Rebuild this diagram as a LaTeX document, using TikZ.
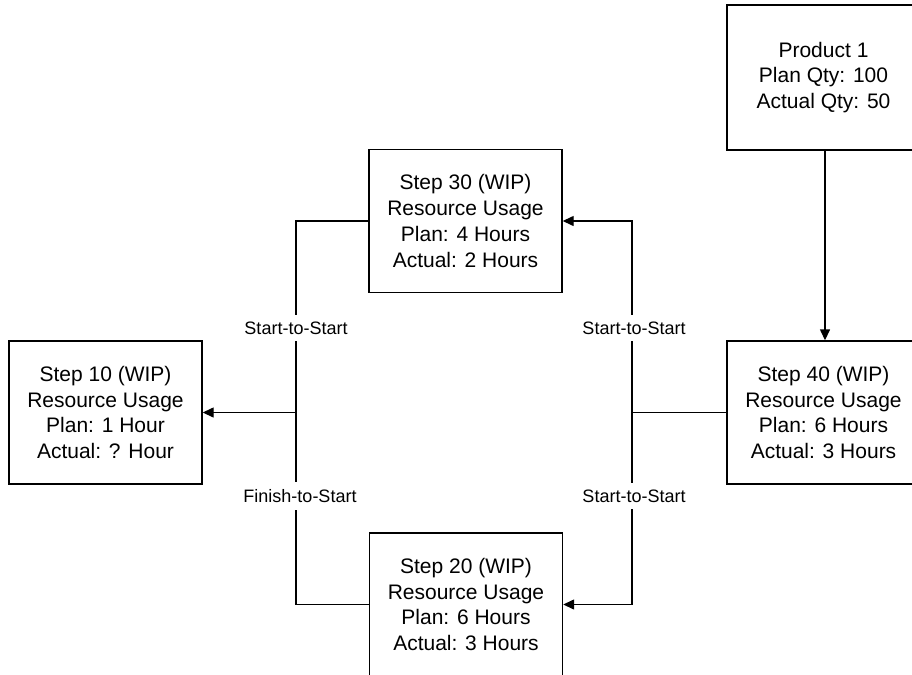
\documentclass[tikz,border=0pt]{standalone}
\usepackage{fontspec}
\setmainfont{Liberation Sans}
\usetikzlibrary{arrows.meta}
\tikzset{
  stepbox/.style={draw=black, line width=1.4pt, minimum width=193pt, minimum height=143pt,
    inner sep=0pt, align=center, font=\fontsize{21}{25.7}\selectfont},
  conn/.style={draw=black, line width=1.4pt},
  arr/.style={conn, -{Triangle[length=11pt,width=10pt]}},
  rel/.style={fill=white, inner xsep=1pt, inner ysep=7pt, font=\fontsize{18}{20}\selectfont}
}
\begin{document}
\begin{tikzpicture}[x=1pt, y=-1pt]
\useasboundingbox (0,0) rectangle (912,674);
\clip (0,0) rectangle (912,674);
\fill[white] (0,0) rectangle (912,674);

\node[stepbox, minimum height=145pt] (prod) at (823.5,77.5) {Product 1\\Plan Qty: 100\\Actual Qty: 50};
\node[stepbox] (s30) at (465.5,221) {Step 30 (WIP)\\Resource Usage\\Plan: 4 Hours\\Actual: 2 Hours};
\node[stepbox] (s10) at (105.5,412.5) {Step 10 (WIP)\\Resource Usage\\Plan: 1 Hour\\Actual: ? Hour};
\node[stepbox] (s40) at (823.5,412.5) {Step 40 (WIP)\\Resource Usage\\Plan: 6 Hours\\Actual: 3 Hours};
\node[stepbox] (s20) at (466,604.5) {Step 20 (WIP)\\Resource Usage\\Plan: 6 Hours\\Actual: 3 Hours};

\coordinate (L) at (296,412.5);
\coordinate (R) at (632,412.5);

\draw[arr] (s30.west) -| (L) -- (s10.east);
\draw[conn] (s20.west) -| (L);
\draw[conn] (s40.west) -- (R);
\draw[arr] (R) |- (s30.east);
\draw[arr] (R) |- (s20.east);
\draw[arr] (prod.south -| 825,0) -- (s40.north -| 825,0);

\node[rel] (l1) at (296,328) {Start-to-Start};
\node[rel] (l2) at (634,328) {Start-to-Start};
\node[rel] (l3) at (300,496) {Finish-to-Start};
\node[rel] (l4) at (634,496) {Start-to-Start};
\end{tikzpicture}
\end{document}
